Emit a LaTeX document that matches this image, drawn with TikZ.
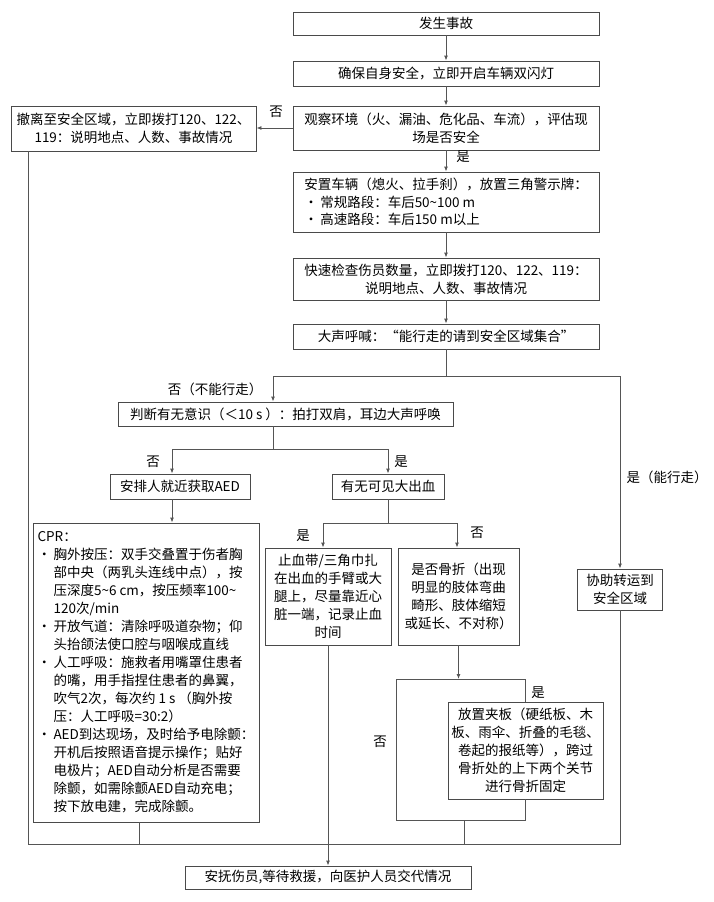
\documentclass[tikz,border=0pt]{standalone}
\usepackage{fontspec}
\setmainfont{Noto Sans CJK SC}
\usetikzlibrary{arrows.meta}
\definecolor{edgegray}{HTML}{4A4A4A}
\definecolor{linegray}{HTML}{555555}
\newcommand{\cprbul}{\makebox[16pt][l]{•}}
\newcommand{\cprind}{\hspace*{16pt}}
\tikzset{
  box/.style={draw=edgegray, line width=0.9pt, fill=white, inner xsep=3pt, inner ysep=2pt,
    align=center, font=\fontsize{13.5}{18}\selectfont},
  wire/.style={draw=linegray, line width=0.9pt},
  arr/.style={wire, -{Latex[length=5pt,width=4pt]}},
  tag/.style={font=\fontsize{13.5}{16}\selectfont, inner sep=1pt},
}
\begin{document}
\begin{tikzpicture}[x=1pt,y=-1pt]
  \useasboundingbox (0,0) rectangle (713,902);
  % main column
  \node[box, minimum width=306pt, minimum height=23pt] (start) at (446,23.5) {发生事故};
  \node[box, minimum width=306pt, minimum height=25pt] (safe) at (446,73.5) {确保自身安全，立即开启车辆双闪灯};
  \node[box, minimum width=306pt, minimum height=44pt] (observe) at (446,128) {观察环境（火、漏油、危化品、车流），评估现\\场是否安全};
  \node[box, minimum width=245pt, minimum height=45pt] (evac) at (133.5,128.5) {撤离至安全区域，立即拨打120、122、\\119：说明地点、人数、事故情况};
  \node[box, align=left, minimum width=306pt, minimum height=60pt, font=\fontsize{13.5}{17.5}\selectfont] (place) at (446,202)
    {安置车辆（熄火、拉手刹），放置三角警示牌：\\
     \cprbul 常规路段：车后50\textasciitilde100 m\\
     \cprbul 高速路段：车后150 m以上};
  \node[box, minimum width=306pt, minimum height=42pt] (check) at (446,279) {快速检查伤员数量，立即拨打120、122、119：\\说明地点、人数、事故情况};
  \node[box, minimum width=306pt, minimum height=25pt] (shout) at (446,336.5) {大声呼喊：“能行走的请到安全区域集合”};
  \node[box, minimum width=335pt, minimum height=24pt] (judge) at (285.5,414) {判断有无意识（＜10 s ）：拍打双肩，耳边大声呼唤};
  \node[box, minimum width=140pt, minimum height=25pt] (aed) at (180,486.5) {安排人就近获取AED};
  \node[box, minimum width=112pt, minimum height=25pt] (bleed) at (388,486.5) {有无可见大出血};
  \node[box, align=left, minimum width=226pt, minimum height=299pt] (cpr) at (146,672.5)
    {CPR：\\
     \cprbul 胸外按压：双手交叠置于伤者胸\\
     \cprind 部中央（两乳头连线中点），按\\
     \cprind 压深度5\textasciitilde6 cm，按压频率100\textasciitilde\\
     \cprind 120次/min\\
     \cprbul 开放气道：清除呼吸道杂物；仰\\
     \cprind 头抬颌法使口腔与咽喉成直线\\
     \cprbul 人工呼吸：施救者用嘴罩住患者\\
     \cprind 的嘴，用手指捏住患者的鼻翼，\\
     \cprind 吹气2次，每次约 1 s （胸外按\\
     \cprind 压：人工呼吸=30:2）\\
     \cprbul AED到达现场，及时给予电除颤：\\
     \cprind 开机后按照语音提示操作；贴好\\
     \cprind 电极片；AED自动分析是否需要\\
     \cprind 除颤，如需除颤AED自动充电；\\
     \cprind 按下放电建，完成除颤。};
  \node[box, minimum width=126pt, minimum height=97pt] (tq) at (328,596.5) {止血带/三角巾扎\\在出血的手臂或大\\腿上，尽量靠近心\\脏一端，记录止血\\时间};
  \node[box, minimum width=121pt, minimum height=97pt] (fracture) at (458.5,596.5) {是否骨折（出现\\明显的肢体弯曲\\畸形、肢体缩短\\或延长、不对称）};
  \node[box, minimum width=155pt, minimum height=97pt] (splint) at (525.5,750.5) {放置夹板（硬纸板、木\\板、雨伞、折叠的毛毯、\\卷起的报纸等），跨过\\骨折处的上下两个关节\\进行骨折固定};
  \node[box, minimum width=85pt, minimum height=41pt] (assist) at (620,589.5) {协助转运到\\安全区域};
  \node[box, minimum width=286pt, minimum height=23pt] (final) at (328,877.5) {安抚伤员,等待救援，向医护人员交代情况};
  % branch points
  \coordinate (walkL) at (273,376);
  \coordinate (walkR) at (620,376);
  \coordinate (noC) at (172,449);
  \coordinate (yesC) at (388,449);
  \coordinate (bl) at (323,523);
  \coordinate (br) at (457,523);
  \coordinate (loopNW) at (396,679);
  \coordinate (loopSW) at (396,820);
  \coordinate (loopOut) at (464,820);
  \coordinate (baseL) at (28,844);
  \coordinate (baseR) at (620,844);
  % connectors
  \draw[arr] (start) -- (safe);
  \draw[arr] (safe) -- (observe);
  \draw[arr] (observe.west) -- (observe.west -| evac.east);
  \draw[arr] (observe) -- (place);
  \draw[arr] (place) -- (check);
  \draw[arr] (check) -- (shout);
  \draw[wire] (shout.south) -- (shout.south |- walkL);
  \draw[wire] (walkL) -- (walkR);
  \draw[arr] (walkL) -- (walkL |- judge.north);
  \draw[arr] (walkR) -- (assist.north);
  \draw[wire] (walkL |- judge.south) -- (walkL |- noC);
  \draw[wire] (noC) -- (yesC);
  \draw[arr] (noC) -- (noC |- aed.north);
  \draw[arr] (yesC) -- (bleed.north);
  \draw[arr] (noC |- aed.south) -- (noC |- cpr.north);
  \draw[wire] (bleed.south) -- (bleed.south |- bl);
  \draw[wire] (bl) -- (br);
  \draw[arr] (bl) -- (bl |- tq.north);
  \draw[arr] (br) -- (br |- fracture.north);
  \draw[arr] (fracture.south) -- (fracture.south |- loopNW);
  \draw[wire] (splint.north) -- (splint.north |- loopNW) -- (loopNW) -- (loopSW) -- (loopSW -| splint.south) -- (splint.south);
  \draw[wire] (loopOut) -- (loopOut |- baseL);
  \draw[wire] (baseL |- evac.south) -- (baseL) -- (baseR) -- (assist.south);
  \draw[wire] ([xshift=-7pt]cpr.south) -- ([xshift=-7pt]cpr.south |- baseL);
  \draw[arr] (tq.south) -- (final.north);
  % labels
  \node[tag] (noEvac) at (276,112) {否};
  \node[tag] (yesSafe) at (463,157) {是};
  \node[tag] (noWalk) at (215,389) {否（不能行走）};
  \node[tag] (yesWalk) at (667,477) {是（能行走）};
  \node[tag] (noCons) at (153,462) {否};
  \node[tag] (yesCons) at (401,462) {是};
  \node[tag] (yesBleed) at (303,536) {是};
  \node[tag] (noBleed) at (477,533) {否};
  \node[tag] (yesFx) at (538,693) {是};
  \node[tag] (noFx) at (380,742) {否};
\end{tikzpicture}
\end{document}
